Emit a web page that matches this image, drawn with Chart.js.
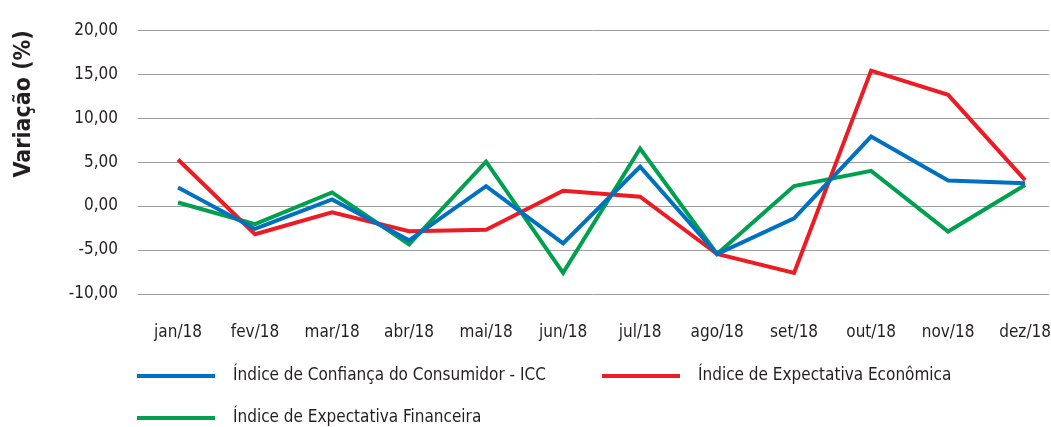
<!DOCTYPE html>
<html>
<head>
<meta charset="utf-8">
<script src="https://cdn.jsdelivr.net/npm/chart.js@4"></script>
<style>
  html, body { margin: 0; padding: 0; background: #fff; }
  #wrap { width: 1051px; height: 427px; }
</style>
</head>
<body>
<div id="wrap"><canvas id="chart"></canvas></div>
<script>
// meses
var meses = ['jan/18', 'fev/18', 'mar/18', 'abr/18', 'mai/18', 'jun/18', 'jul/18', 'ago/18', 'set/18', 'out/18', 'nov/18', 'dez/18'];

// valores (variacao %)
var icc = [2.1, -2.6, 0.75, -3.9, 2.27, -4.25, 4.47, -5.45, -1.4, 7.9, 2.9, 2.6];
var expEconomica = [5.3, -3.2, -0.7, -2.85, -2.7, 1.75, 1.06, -5.45, -7.6, 15.4, 12.65, 2.95];
var expFinanceira = [0.4, -2.05, 1.55, -4.35, 5.05, -7.6, 6.55, -5.45, 2.27, 4.0, -2.9, 2.4];

var nomes = ['Índice de Confiança do Consumidor - ICC', 'Índice de Expectativa Econômica', 'Índice de Expectativa Financeira'];
var yTicks = [-10, -5, 0, 5, 10, 15, 20];

var fonte = "'Liberation Sans Narrow', 'DejaVu Sans Condensed', 'Arial Narrow', sans-serif";

function pontos(arr) {
  return arr.map(function (v, i) { return { x: i, y: v }; });
}

// legenda em duas colunas, como no original
var legendaPlugin = {
  id: 'legenda',
  afterDraw: function (chart) {
    var ctx = chart.ctx;
    var pos = [[137, 376], [602, 376], [137, 418]];
    ctx.save();
    ctx.font = '17px ' + fonte;
    ctx.textBaseline = 'middle';
    ctx.fillStyle = '#231f20';
    chart.data.datasets.forEach(function (ds, i) {
      var p = pos[i];
      ctx.strokeStyle = ds.borderColor;
      ctx.lineWidth = 4;
      ctx.beginPath();
      ctx.moveTo(p[0], p[1]);
      ctx.lineTo(p[0] + 78, p[1]);
      ctx.stroke();
      ctx.fillText(ds.label, p[0] + 96, p[1]);
    });
    ctx.restore();
  }
};

new Chart(document.getElementById('chart'), {
  type: 'line',
  data: {
    datasets: [{
      label: nomes[0],
      data: pontos(icc),
      borderColor: '#0070c0',
      borderWidth: 4,
      pointRadius: 0,
      tension: 0
    }, {
      label: nomes[1],
      data: pontos(expEconomica),
      borderColor: '#ed1c24',
      borderWidth: 4,
      pointRadius: 0,
      tension: 0
    }, {
      label: nomes[2],
      data: pontos(expFinanceira),
      borderColor: '#00a04f',
      borderWidth: 4,
      pointRadius: 0,
      tension: 0
    }]
  },
  options: {
    responsive: true,
    maintainAspectRatio: false,
    animation: false,
    layout: { padding: { top: 21, right: 2, left: 0, bottom: 0 } },
    plugins: {
      legend: { display: false },
      tooltip: { enabled: false }
    },
    scales: {
      x: {
        type: 'linear',
        min: -0.52,
        max: 11.31,
        grid: { display: false, drawTicks: false },
        border: { display: false },
        afterBuildTicks: function (scale) {
          scale.ticks = meses.map(function (m, i) { return { value: i }; });
        },
        afterFit: function (scale) {
          scale.height = 133;
          scale.paddingLeft = 0;
          scale.paddingRight = 0;
        },
        ticks: {
          padding: 28,
          color: '#231f20',
          font: { family: fonte, size: 17 },
          callback: function (v) { return meses[v]; }
        }
      },
      y: {
        min: -10,
        max: 20,
        afterBuildTicks: function (scale) {
          scale.ticks = yTicks.map(function (v) { return { value: v }; });
        },
        afterFit: function (scale) { scale.width = 138; },
        grid: { color: '#9d9d9d', lineWidth: 1, drawTicks: false },
        border: { display: false },
        ticks: {
          padding: 20,
          color: '#231f20',
          font: { family: fonte, size: 17 },
          callback: function (v) { return v.toFixed(2).replace('.', ','); }
        },
        title: {
          display: true,
          text: 'Variação (%)',
          align: 'end',
          color: '#231f20',
          font: { family: fonte, size: 23, weight: 'bold' },
          padding: { top: 10, bottom: 0 }
        }
      }
    }
  },
  plugins: [legendaPlugin]
});
</script>
</body>
</html>
